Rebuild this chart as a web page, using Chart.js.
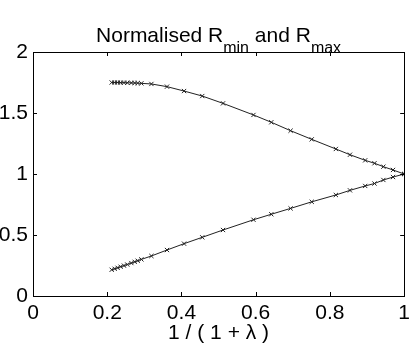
<!DOCTYPE html>
<html>
<head>
<meta charset="utf-8">
<script src="https://cdn.jsdelivr.net/npm/chart.js@4/dist/chart.umd.min.js"></script>
<style>
  body { margin: 0; background: #fff; }
  #wrap { width: 415px; height: 346px; position: relative; }
</style>
</head>
<body>
<div id="wrap"><canvas id="rChart"></canvas></div>
<script>
// x = 1 / (1 + lambda) sample points
const xVals = [0.212, 0.220, 0.228, 0.236, 0.245, 0.254, 0.265, 0.274, 0.282, 0.292,
               0.319, 0.361, 0.407, 0.456, 0.512, 0.594, 0.642, 0.694, 0.751, 0.816,
               0.854, 0.895, 0.920, 0.944, 0.970, 1.000];
// normalised R max (upper curve)
const rMaxVals = [1.750, 1.750, 1.750, 1.749, 1.749, 1.748, 1.747, 1.746, 1.745, 1.743,
                  1.738, 1.716, 1.680, 1.639, 1.579, 1.484, 1.424, 1.355, 1.284, 1.205,
                  1.158, 1.112, 1.088, 1.060, 1.033, 1.000];
// normalised R min (lower curve)
const rMinVals = [0.215, 0.223, 0.231, 0.240, 0.249, 0.258, 0.270, 0.280, 0.289, 0.300,
                  0.328, 0.377, 0.429, 0.481, 0.541, 0.625, 0.670, 0.718, 0.772, 0.828,
                  0.866, 0.902, 0.922, 0.951, 0.975, 1.000];
const xTicks = [0, 0.2, 0.4, 0.6, 0.8, 1];
const yTicks = [0, 0.5, 1, 1.5, 2];

const fontFam = "'Liberation Sans', Arial, Helvetica, sans-serif";
const fontSize = 21;

//turn the arrays into {x,y} points
function toPoints(ys) {
    var pts = [];
    for (let i = 0; i < xVals.length; i++) {
        pts.push({ x: xVals[i], y: ys[i] });
    }
    return pts;
}

//matlab style box with ticks pointing inwards
const boxPlugin = {
    id: 'boxTicks',
    afterDatasetsDraw(chart) {
        const ctx = chart.ctx;
        const a = chart.chartArea;
        const xs = chart.scales.x, ys = chart.scales.y;
        const len = 4;
        ctx.save();
        ctx.strokeStyle = '#000';
        ctx.lineWidth = 1;
        ctx.beginPath();
        xTicks.forEach(v => {
            const px = Math.round(xs.getPixelForValue(v)) + 0.5;
            ctx.moveTo(px, a.bottom); ctx.lineTo(px, a.bottom - len);
            ctx.moveTo(px, a.top); ctx.lineTo(px, a.top + len);
        });
        yTicks.forEach(v => {
            const py = Math.round(ys.getPixelForValue(v)) + 0.5;
            ctx.moveTo(a.left, py); ctx.lineTo(a.left + len, py);
            ctx.moveTo(a.right, py); ctx.lineTo(a.right - len, py);
        });
        ctx.stroke();
        ctx.strokeRect(Math.round(a.left) + 0.5, Math.round(a.top) + 0.5,
                       Math.round(a.right - a.left), Math.round(a.bottom - a.top));
        ctx.restore();
    }
};

//title with subscripts
const titlePlugin = {
    id: 'subTitle',
    afterDraw(chart) {
        const ctx = chart.ctx;
        const a = chart.chartArea;
        const parts = [
            { t: 'Normalised R', sub: false },
            { t: 'min', sub: true },
            { t: ' and R', sub: false },
            { t: 'max', sub: true }
        ];
        const big = fontSize + 'px ' + fontFam, small = '16px ' + fontFam;
        ctx.save();
        var total = 0;
        parts.forEach(p => {
            ctx.font = p.sub ? small : big;
            p.w = ctx.measureText(p.t).width;
            total += p.w;
        });
        var x = (a.left + a.right) / 2 - total / 2;
        ctx.fillStyle = '#000';
        ctx.textBaseline = 'alphabetic';
        parts.forEach(p => {
            ctx.font = p.sub ? small : big;
            ctx.fillText(p.t, x, p.sub ? 53 : 42);
            x += p.w;
        });
        ctx.restore();
    }
};

const ctx = document.getElementById('rChart').getContext('2d');
const lineStyle = {
    borderColor: '#222',
    borderWidth: 1,
    pointStyle: 'crossRot',
    pointRadius: 3,
    pointBorderColor: '#222',
    pointBorderWidth: 1,
    pointBackgroundColor: '#222',
    showLine: true,
    tension: 0,
    fill: false
};

new Chart(ctx, {
    type: 'scatter',
    data: {
        datasets: [
            Object.assign({ label: 'R max', data: toPoints(rMaxVals) }, lineStyle),
            Object.assign({ label: 'R min', data: toPoints(rMinVals) }, lineStyle)
        ]
    },
    options: {
        responsive: true,
        maintainAspectRatio: false,
        animation: false,
        layout: { padding: { top: 52, right: 10, left: 0, bottom: 0 } },
        plugins: {
            legend: { display: false },
            tooltip: { enabled: false }
        },
        scales: {
            x: {
                type: 'linear',
                min: 0,
                max: 1,
                afterBuildTicks: s => { s.ticks = xTicks.map(v => ({ value: v })); },
                afterFit: s => { s.height = 50; },
                grid: { display: false, drawTicks: false },
                border: { display: false },
                ticks: {
                    color: '#000', padding: 5, maxRotation: 0,
                    font: { family: fontFam, size: fontSize },
                    callback: v => String(v)
                },
                title: {
                    display: true,
                    text: '1 / ( 1 + λ )',
                    color: '#000',
                    padding: { top: 0, bottom: 0 },
                    font: { family: fontFam, size: fontSize }
                }
            },
            y: {
                type: 'linear',
                min: 0,
                max: 2,
                afterBuildTicks: s => { s.ticks = yTicks.map(v => ({ value: v })); },
                afterFit: s => { s.width = 33; },
                grid: { display: false, drawTicks: false },
                border: { display: false },
                ticks: {
                    color: '#000', padding: 5,
                    font: { family: fontFam, size: fontSize },
                    callback: v => String(v)
                }
            }
        }
    },
    plugins: [boxPlugin, titlePlugin]
});
</script>
</body>
</html>
